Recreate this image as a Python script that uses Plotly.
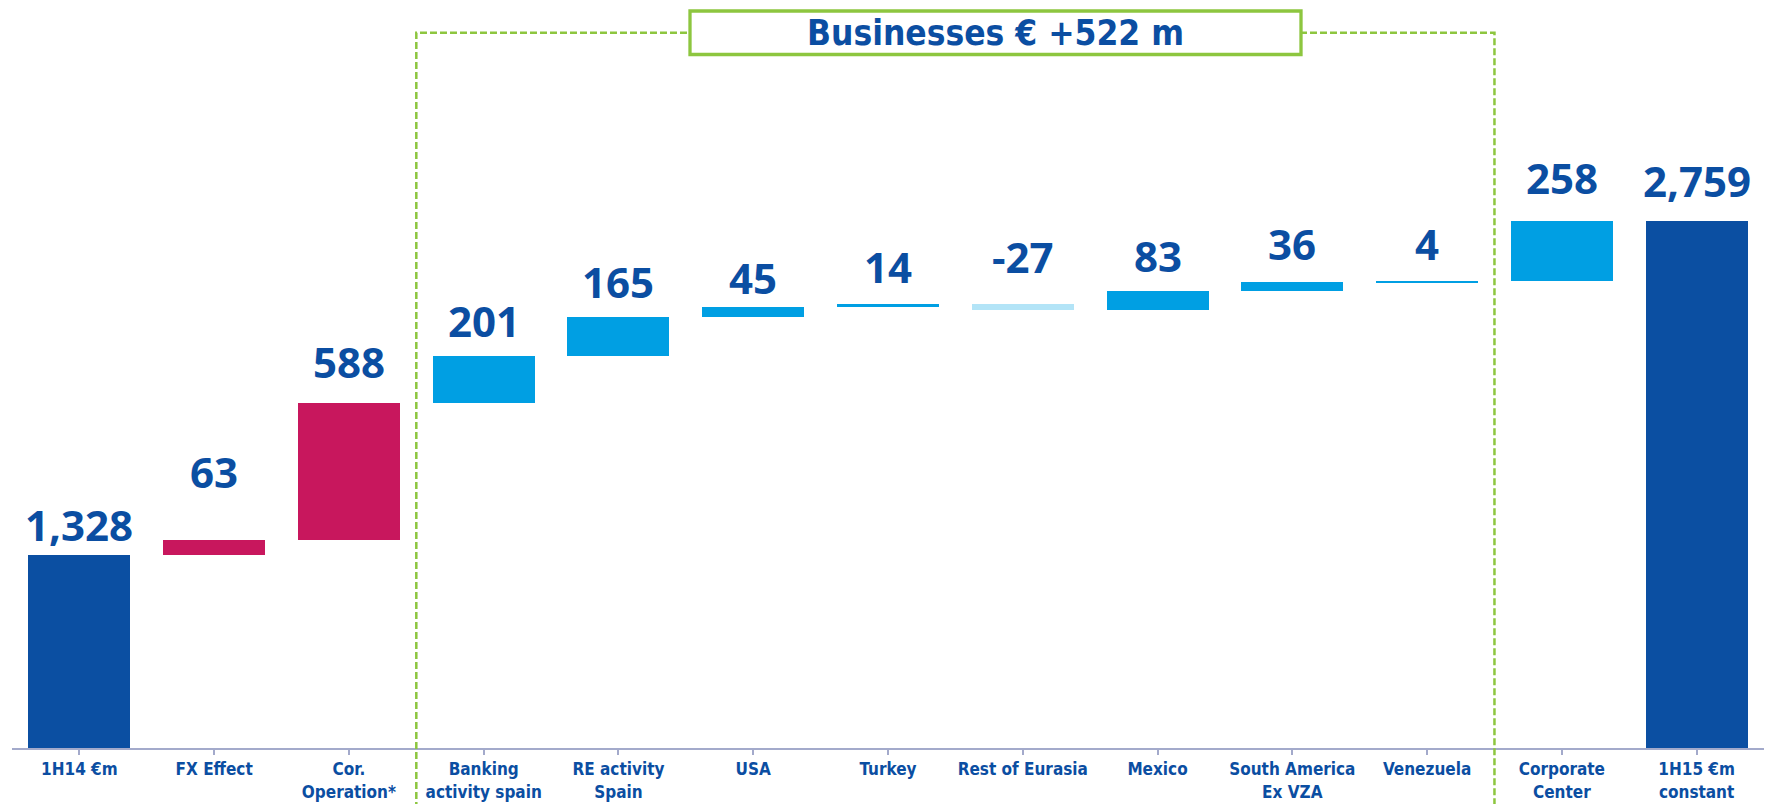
import plotly.graph_objects as go

# --- data ---------------------------------------------------------------
categories = [
    "1H14 €m", "FX Effect", "Cor.<br>Operation*", "Banking<br>activity spain",
    "RE activity<br>Spain", "USA", "Turkey", "Rest of Eurasia", "Mexico",
    "South America<br>Ex VZA", "Venezuela", "Corporate<br>Center",
    "1H15 €m<br>constant",
]
values = [1328, 63, 588, 201, 165, 45, 14, -27, 83, 36, 4, 258, 2759]
is_total = [True] + [False] * 11 + [True]
groups = ["total", "corp", "corp", "biz", "biz", "biz", "biz", "biz", "biz",
          "biz", "biz", "biz", "total"]
value_labels = ["1,328", "63", "588", "201", "165", "45", "14", "-27", "83",
                "36", "4", "258", "2,759"]
bracket_title = "Businesses € +522 m"

# --- styling --------------------------------------------------------------
TEXT_BLUE = "#0b4ea2"
GREEN = "#8dc63f"
AXIS_GREY = "#a3aacb"
group_colors = {"total": "#0b4fa2", "corp": "#c8175d", "biz": "#009fe3"}
NEG_COLOR = "#b3e4f7"
# extra lift (px) of each value label above its bar
label_gap_px = [13, 51, 24, 18, 18, 12, 20, 30, 18, 21, 20, 26, 23]

W, H = 1768, 804
M_L, M_R, M_T, M_B = 12, 4, 0, 56
PLOT_W = W - M_L - M_R
PLOT_H = H - M_T - M_B
Y_MIN = 500
PX_PER_UNIT = 0.2334
Y_MAX = Y_MIN + PLOT_H / PX_PER_UNIT


def px_x(p):
    return (p - M_L) / PLOT_W


def px_y(p):
    return (H - M_B - p) / PLOT_H


# --- waterfall geometry from the values -----------------------------------
bases, heights, colors, tops = [], [], [], []
running = 0
for v, tot, g in zip(values, is_total, groups):
    if tot:
        base, h = 0, v
        running = v
    else:
        base, h = running, v
        running += v
    bases.append(base)
    heights.append(h)
    tops.append(max(base, base + h))
    colors.append(NEG_COLOR if (not tot and v < 0) else group_colors[g])

x_idx = list(range(len(categories)))

fig = go.Figure()
fig.add_trace(go.Bar(
    x=x_idx, y=heights, base=bases, width=0.757,
    marker=dict(color=colors, line=dict(width=0)),
    hoverinfo="skip", showlegend=False,
))

for i, (lab, top, gap) in enumerate(zip(value_labels, tops, label_gap_px)):
    fig.add_annotation(
        x=i, y=top, xref="x", yref="y", text=lab, showarrow=False,
        yanchor="bottom", xanchor="center", yshift=gap - 13,
        font=dict(family="Open Sans", size=42, color=TEXT_BLUE, weight=700),
    )

# dashed bracket around the business lines
n = len(categories)
left_b = 3 / n
right_b = 11 / n
top_y = px_y(32.7)
bot_y = px_y(H + 5)
fig.add_shape(
    type="path", xref="paper", yref="paper",
    path=f"M {left_b},{bot_y} L {left_b},{top_y} L {right_b},{top_y} L {right_b},{bot_y}",
    line=dict(color=GREEN, width=2.5, dash="7px,3px"),
    layer="above",
)
# title box over the bracket
fig.add_shape(
    type="rect", xref="paper", yref="paper",
    x0=px_x(690), x1=px_x(1301), y0=px_y(54.5), y1=px_y(11),
    line=dict(color=GREEN, width=3.3), fillcolor="white", layer="above",
)
fig.add_annotation(
    x=px_x(995.5), y=px_y(33), xref="paper", yref="paper",
    text=bracket_title, showarrow=False, xanchor="center", yanchor="middle",
    font=dict(family="DejaVu Sans Condensed, DejaVu Sans", size=35,
              color=TEXT_BLUE, weight=700),
)

fig.update_layout(
    width=W, height=H,
    margin=dict(l=M_L, r=M_R, t=M_T, b=M_B, pad=0),
    paper_bgcolor="white", plot_bgcolor="white",
    bargap=0,
    xaxis=dict(
        tickmode="array", tickvals=x_idx, ticktext=categories,
        range=[-0.5, n - 0.5],
        showline=True, linecolor=AXIS_GREY, linewidth=2,
        ticks="outside", tickson="boundaries", ticklen=5, tickwidth=1.5,
        tickcolor=AXIS_GREY, showgrid=False, zeroline=False,
        tickfont=dict(family="DejaVu Sans Condensed, DejaVu Sans", size=17,
                      color=TEXT_BLUE, weight=700),
        fixedrange=True,
    ),
    yaxis=dict(
        range=[Y_MIN, Y_MAX], visible=False, showgrid=False,
        zeroline=False, fixedrange=True,
    ),
)

fig.write_html("out.html", config={"displayModeBar": False})
